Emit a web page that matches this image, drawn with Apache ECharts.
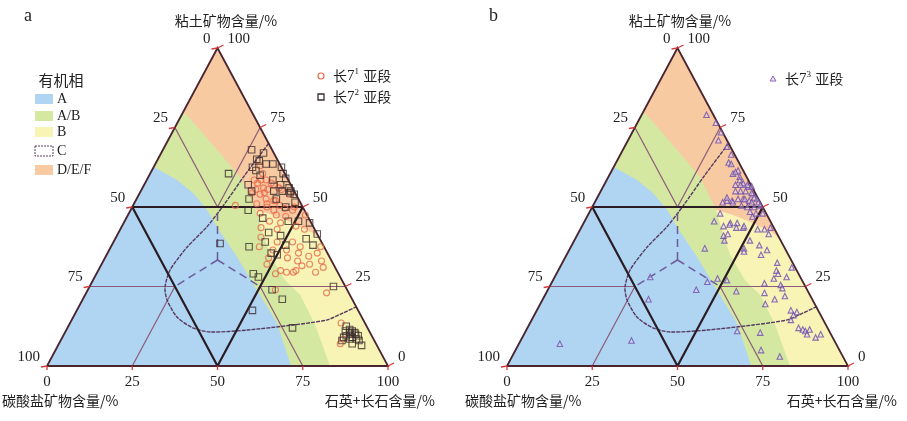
<!DOCTYPE html>
<html><head><meta charset="utf-8">
<script src="https://cdn.jsdelivr.net/npm/echarts@6/dist/echarts.min.js"></script>
<style>html,body{margin:0;padding:0;background:#fff}#c{width:907px;height:421px}</style>
</head><body><div id="c"></div>
<script>
// All points are ternary values [石英+长石 %, 粘土矿物 %]; 碳酸盐 = 100 - both
const tickValues = [0, 25, 50, 75, 100];

const chang71 = [[31,63],[33,60.5],[31.5,58.5],[33.5,58.5],[35,58.5],[38,57],[35.5,56],[33.5,55.5],[35.5,54],[37,55.5],[40,56],[38,52.5],[40.5,52],[30,50.5],[36,51],[43,50.5],[39.5,50],[42,49],[47.5,49],[38.5,48],[43.5,47.5],[46.5,47],[52,47.5],[42.5,45.5],[46,45],[51,44],[54,43],[41,43.5],[46,43],[42.5,40.5],[52.5,39],[48,39],[55.5,37.5],[61.5,37.5],[43.5,37.5],[48,36.5],[52,36.5],[56,35.5],[61.5,35.5],[59.5,34.5],[48,34],[53.5,34],[57,33],[64,33],[61,32],[59,31.5],[65.5,31],[64,29.5],[53.5,30],[55.5,29.5],[57.5,29.5],[58,30],[48.5,32],[52.5,29],[55,24],[70.5,23],[79.5,13.5],[82.5,7],[82.5,8.5],[33,57.5],[33,54.5],[37,57.5],[36.5,54.5],[41,52],[41,55.5],[44,54],[39,51],[45,49.5],[47.5,50]];

const chang72 = [[26,68],[30,67],[29,65],[30,64.5],[32.5,63.5],[34.5,63.5],[37.5,62.5],[29,62.5],[30.5,61.5],[23,60.5],[39,60.5],[32.5,60],[40.5,59],[30.5,57],[37,58.5],[40,57],[43,56],[44,55],[32.5,55],[39,55],[41.5,55],[44,54.5],[45.5,54],[33,52.5],[41,52.5],[45,50],[47,51.5],[34.5,49],[40,46.5],[48,45.5],[51,45.5],[54.5,45],[58.5,41.5],[44,42],[48,41],[56,40],[44.5,39],[51,38],[59,38],[40.5,37.5],[48,35.5],[50,35],[46,29],[48,28],[71.5,25],[54,24],[58.5,21],[51.5,17.5],[66,12],[31.5,38.5],[81.5,12.5],[83,11.5],[82,11],[84,11],[85,10.5],[83,9.5],[85,9],[86.5,9.5],[84.5,8.5],[86.5,8.5],[87.5,8],[82.5,9],[86,7],[89,6.5],[82.5,8],[84,10],[85.5,10],[83.5,10.5]];

const chang73 = [[19,79],[23,76.5],[26,73.5],[26.5,71],[30,69],[32.5,66.5],[33,64],[37,61.5],[36,60.5],[38.5,59.5],[40.5,57.5],[38.5,57],[42.5,56.5],[41,55],[42.5,55],[45,54],[38.5,52],[40,52],[43,52.5],[45,52],[47,52.5],[40,57],[42,57],[43.5,56.5],[39.5,55],[44.5,54.5],[46,53],[38,53],[41.5,52.5],[43.5,52.5],[46,51.5],[48,51.5],[37.5,51.5],[40.5,51.5],[43.5,50.5],[45.5,50],[47.5,50],[49,50.5],[47,48.5],[49,48],[51,48],[48.5,47],[38,45.5],[43,45],[45,45],[41.5,44],[47.5,43.5],[52,43],[54,43],[55.5,43.5],[56,41.5],[44,41.5],[38.5,48],[43,44.5],[45.5,43.5],[47.5,44],[39.5,37],[43,41],[44,39.5],[51,37],[51.5,39.5],[55,38],[58,36.5],[57,35],[51.5,36],[63,32.5],[64,30],[68,31],[65,29],[68,28],[64.5,27.5],[62.5,26],[67.5,25.5],[68.5,24.5],[48,27.5],[51,27],[45.5,26.5],[55.5,23.5],[64,23],[68,21],[70.5,22],[66,19.5],[74.5,17.5],[76.5,17],[76,16],[76,14.5],[79.5,12],[81,11.5],[82,11],[83,11.5],[83,10],[86,9],[87,10],[62,11],[69,10.5],[72,5],[78.5,3],[28,28],[43.5,24],[31,21],[32.5,8],[12,7],[34,63.5],[36.5,61],[39,58.5]];

// facies region boundaries, ternary [石英+长石, 粘土]
const regionB = [[0,0],[100,0],[0,100]];
const regionAB = [[0,100],[0,0],[83,0],[72.2,12.9],[63.1,22.3],[56.3,27],[48,34.9],[41.6,42.8],[36.7,49.1]];
const regionDEF = [[0,100],[0,80],[7.8,74.2],[18.8,65.7],[26.9,59.4],[33,53.1],[36.7,49.1],[42.5,47.5],[49.6,45],[57.1,41.8],[60.4,39.6]];
const regionA = [[0,0],[0,62.6],[8.9,58.5],[15.6,54.4],[22.4,49.1],[28,43.7],[38.6,34.3],[49.6,23.9],[60.7,13.5],[71.6,0]];
const regionCOutline = [[30,70],[28,60],[26.5,50.5],[25,43.7],[22.4,37.4],[21,30.2],[22.2,24.8],[24.8,20.8],[30.4,15.4],[36.8,12],[42.5,10.7],[53,11.3],[65.7,12.9],[74.9,14.5],[78.5,16.7],[81.4,18.6]];

const colors = {A:'#afd5f3', AB:'#d4e8a2', B:'#f8f4b6', DEF:'#f8caa2'};

function xy(t){ return [t[0] + t[1]/2, t[1]]; }

const SERIF = 'Liberation Serif';
const CJK = '"Noto Sans CJK SC"';

function bgSeries(gi){
  const polys = [regionB, regionAB, regionDEF, regionA];
  const fills = [colors.B, colors.AB, colors.DEF, colors.A];
  return {type:'custom', xAxisIndex:gi, yAxisIndex:gi, silent:true, z:1, clip:false,
    data: polys.map((p,i)=>[i,0]),
    renderItem:(params, api)=>{
      const p = polys[params.dataIndex];
      return {type:'polygon', shape:{points:p.map(t=>api.coord(xy(t)))}, style:{fill:fills[params.dataIndex]}};
    }};
}

function decoSeries(gi){
  return {type:'custom', xAxisIndex:gi, yAxisIndex:gi, silent:true, z:3, clip:false,
    data:[[0,0]],
    renderItem:(params, api)=>{
      const P = t => api.coord(xy(t));
      const ch = [];
      const line = (pts, stroke, w, dash, smooth)=>ch.push({type:'polyline',
        shape:{points:pts.map(P), smooth:smooth||0},
        style:{stroke, lineWidth:w, lineDash:dash||null, fill:null}});
      const thin = '#8c5a78';
      // sub-division lines
      line([[0,75],[25,50]], thin, 1.2);
      line([[25,75],[25,50]], thin, 1.2);
      line([[50,25],[75,0]], thin, 1.2);
      line([[25,25],[25,0]], thin, 1.2);
      line([[0,25],[25,25]], thin, 1.2);
      line([[50,25],[75,25]], thin, 1.2);
      // C region outline
      line(regionCOutline, '#553a5e', 1.4, [4,1], 0.25);
      // dashed centre lines
      const cen = [100/3,100/3];
      line([cen,[25,50]], '#6b5b9b', 1.5, [8,5]);
      line([cen,[25,25]], '#6b5b9b', 1.5, [8,5]);
      line([cen,[50,25]], '#6b5b9b', 1.5, [8,5]);
      // inner triangle
      line([[0,50],[50,50],[50,0],[0,50]], '#2a1c22', 2.2);
      // outer triangle
      line([[0,0],[100,0],[0,100],[0,0]], '#4a2530', 1.8);
      // red ticks and labels
      tickValues.forEach(v=>{
        const l = P([0,100-v]);
        ch.push({type:'line', shape:{x1:l[0], y1:l[1], x2:l[0]-6, y2:l[1]+1}, style:{stroke:'#d83a3a', lineWidth:1.3}});
        ch.push({type:'text', x:l[0]-7, y:l[1]-9, style:{text:String(v), font:'15px '+SERIF, fill:'#222', align:'right', verticalAlign:'middle'}});
        const r = P([100-v, v]);
        ch.push({type:'line', shape:{x1:r[0], y1:r[1], x2:r[0]+6, y2:r[1]-3}, style:{stroke:'#d83a3a', lineWidth:1.3}});
        ch.push({type:'text', x:r[0]+10, y:r[1]-9, style:{text:String(v), font:'15px '+SERIF, fill:'#222', align:'left', verticalAlign:'middle'}});
        const b = P([v,0]);
        ch.push({type:'line', shape:{x1:b[0], y1:b[1], x2:b[0], y2:b[1]+4}, style:{stroke:'#d83a3a', lineWidth:1.3}});
      });
      return {type:'group', children:ch};
    }};
}

function scatter(gi, name, data, symbol, size, border, fill){
  return {type:'scatter', name, xAxisIndex:gi, yAxisIndex:gi, z:4, symbol, symbolSize:size,
    data:data.map(xy), silent:true,
    itemStyle:{color:fill, borderColor:border, borderWidth:1.1}};
}

const chart = echarts.init(document.getElementById('c'), null, {renderer:'canvas'});
const axisX = gi => ({gridIndex:gi, type:'value', min:0, max:100, interval:25,
  axisLine:{show:false}, axisTick:{show:false}, splitLine:{show:false},
  axisLabel:{fontFamily:SERIF, fontSize:15, color:'#222', margin:9}});
const axisY = gi => ({gridIndex:gi, type:'value', min:0, max:100, show:false, splitLine:{show:false}});

function txt(x, y, text, font, align, extra){
  return Object.assign({type:'text', x, y, z:10, style:{text, font, fill:'#222', align:align||'left', verticalAlign:'middle'}}, extra||{});
}
const supRich = {a:{font:'14px '+CJK, fill:'#222'}, n:{font:'15px '+SERIF, fill:'#222'}, s:{font:'9px '+SERIF, fill:'#222', padding:[0,1,9,0]}};

const legendItems = [['A',colors.A,99],['A/B',colors.AB,116],['B',colors.B,132],['C',null,151],['D/E/F',colors.DEF,170]];
const graphics = [
  txt(24, 16, 'a', '18px '+SERIF),
  txt(489, 16, 'b', '18px '+SERIF),
  txt(226, 21, '粘土矿物含量/%', '14px '+CJK, 'center'),
  txt(680, 21, '粘土矿物含量/%', '14px '+CJK, 'center'),
  txt(2, 401, '碳酸盐矿物含量/%', '14px '+CJK, 'left'),
  txt(435, 401, '石英+长石含量/%', '14px '+CJK, 'right'),
  txt(465, 401, '碳酸盐矿物含量/%', '14px '+CJK, 'left'),
  txt(897, 401, '石英+长石含量/%', '14px '+CJK, 'right'),
  txt(61, 80, '有机相', '15px '+CJK, 'center'),
  {type:'circle', shape:{cx:321, cy:76, r:3}, style:{fill:'none', stroke:'#e8684a', lineWidth:1.2}, z:10},
  {type:'rect', shape:{x:318, y:94, width:6, height:6}, style:{fill:'none', stroke:'#3b2d2d', lineWidth:1.3}, z:10},
  {type:'polygon', shape:{points:[[773,76],[776,81],[770,81]]}, style:{fill:'rgba(225,215,245,0.7)', stroke:'#8a6ab0', lineWidth:1}, z:10},
  {type:'text', x:333, y:76, z:10, style:{text:'{a|长}{n|7}{s|1}{a| 亚段}', rich:supRich, verticalAlign:'middle'}},
  {type:'text', x:333, y:97, z:10, style:{text:'{a|长}{n|7}{s|2}{a| 亚段}', rich:supRich, verticalAlign:'middle'}},
  {type:'text', x:785, y:79, z:10, style:{text:'{a|长}{n|7}{s|3}{a| 亚段}', rich:supRich, verticalAlign:'middle'}}
];
legendItems.forEach(([lab,col,y])=>{
  if(col) graphics.push({type:'rect', shape:{x:35, y:y-5, width:18, height:10}, style:{fill:col}, z:10});
  else graphics.push({type:'rect', shape:{x:35, y:y-5, width:18, height:10}, style:{fill:'#fff', stroke:'#5c3a6a', lineWidth:1, lineDash:[2,1]}, z:10});
  graphics.push(txt(57, y, lab, '14px '+SERIF, 'left'));
});

chart.setOption({
  animation:false,
  backgroundColor:'#fff',
  grid:[{left:47, top:48, width:341, height:318}, {left:507, top:48, width:341, height:318}],
  xAxis:[axisX(0), axisX(1)],
  yAxis:[axisY(0), axisY(1)],
  series:[
    bgSeries(0), decoSeries(0),
    scatter(0, '长7¹亚段', chang71, 'circle', 6, '#e8684a', 'rgba(255,255,255,0)'),
    scatter(0, '长7²亚段', chang72, 'rect', 6.5, '#3b2d2d', 'rgba(255,255,255,0)'),
    bgSeries(1), decoSeries(1),
    scatter(1, '长7³亚段', chang73, 'triangle', 5.5, '#6e4ea6', 'rgba(225,215,245,0.55)')
  ],
  graphic:graphics
});
</script></body></html>
